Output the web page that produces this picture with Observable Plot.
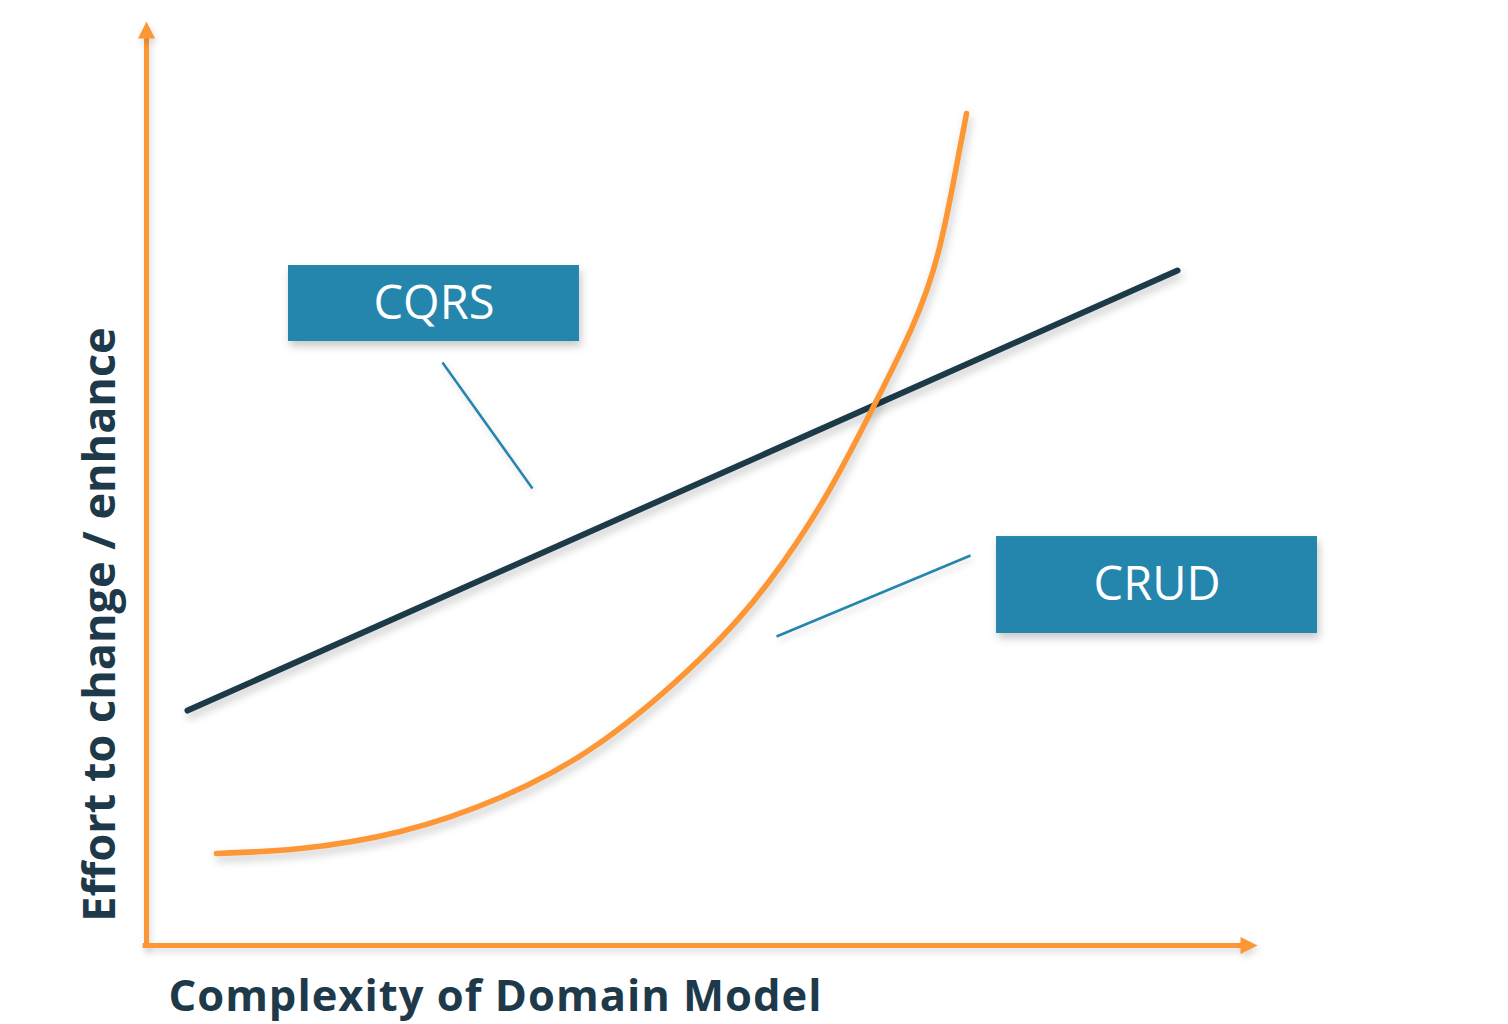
<!DOCTYPE html>
<html>
<head>
<meta charset="utf-8">
<script src="https://cdn.jsdelivr.net/npm/d3@7"></script>
<script src="https://cdn.jsdelivr.net/npm/@observablehq/plot@0.6"></script>
<style>
  html, body { margin: 0; padding: 0; background: #fff; }
  .shadow { filter: drop-shadow(2px 5px 4px rgba(0,0,0,0.22)); }
  .soft { filter: drop-shadow(2px 4px 3px rgba(0,0,0,0.14)); }
  .xtitle text { letter-spacing: 1px; }
</style>
</head>
<body>
<div id="chart"></div>
<script>
// Dark straight line (CQRS)
const cqrsX = [3.69, 92.80];
const cqrsY = [25.43, 73.05];

// Orange curve (CRUD)
const crudX = [6.30, 13.86, 22.86, 31.86, 40.86, 49.86, 55.90, 61.12, 65.44, 68.86, 71.29, 73.00, 73.81];
const crudY = [9.96, 10.50, 12.34, 16.02, 21.97, 31.06, 39.18, 48.59, 58.33, 66.77, 75.11, 84.96, 90.04];

// Label boxes
const boxLabels = ["CQRS", "CRUD"];
const boxX1 = [12.78, 76.51];
const boxX2 = [38.97, 105.4];
const boxY1 = [65.37, 33.77];
const boxY2 = [73.59, 44.26];

// Connector lines from labels
const connX1 = [26.64, 56.71];
const connY1 = [63.10, 33.44];
const connX2 = [34.74, 74.17];
const connY2 = [49.46, 42.21];

// Axis titles
const xTitle = "Complexity of Domain Model";
const yTitle = "Effort to change / enhance";

const ORANGE = "#fd9634";
const DARK = "#1c3a48";
const BLUE = "#2485ad";
const TEXT = "#1e3a4a";

const cqrs = cqrsX.map((x, i) => ({x, y: cqrsY[i]}));
const crud = crudX.map((x, i) => ({x, y: crudY[i]}));
const boxes = boxLabels.map((label, i) => ({label, x1: boxX1[i], x2: boxX2[i], y1: boxY1[i], y2: boxY2[i]}));
const conns = connX1.map((x1, i) => ({x1, y1: connY1[i], x2: connX2[i], y2: connY2[i]}));

// arrowhead symbols with the tip at the anchor point
const arrowUp = {draw(ctx, size) { const r = Math.sqrt(size / Math.PI); ctx.moveTo(0, 0); ctx.lineTo(-r / 2, r); ctx.lineTo(r / 2, r); ctx.closePath(); }};
const arrowRight = {draw(ctx, size) { const r = Math.sqrt(size / Math.PI); ctx.moveTo(0, 0); ctx.lineTo(-r, -r / 2); ctx.lineTo(-r, r / 2); ctx.closePath(); }};

const chart = Plot.plot({
  width: 1508,
  height: 1024,
  marginLeft: 146,
  marginRight: 251,
  marginTop: 21,
  marginBottom: 79,
  x: {domain: [0, 100], axis: null},
  y: {domain: [0, 100], axis: null},
  style: {background: "#fff", overflow: "visible"},
  marks: [
    // axes
    Plot.ruleX([0], {y1: -0.3, y2: 98.3, stroke: ORANGE, strokeWidth: 5, className: "soft"}),
    Plot.ruleY([0], {x1: -0.3, x2: 98.6, stroke: ORANGE, strokeWidth: 5, className: "soft"}),
    Plot.dot([{x: 0, y: 100}], {x: "x", y: "y", symbol: arrowUp, r: 17, fill: ORANGE, stroke: "none", className: "soft"}),
    Plot.dot([{x: 100, y: 0}], {x: "x", y: "y", symbol: arrowRight, r: 17, fill: ORANGE, stroke: "none", className: "soft"}),
    // curves
    Plot.line(cqrs, {x: "x", y: "y", stroke: DARK, strokeWidth: 6, className: "shadow"}),
    Plot.line(crud, {x: "x", y: "y", stroke: ORANGE, strokeWidth: 5.5, curve: "natural", className: "shadow"}),
    // connectors
    Plot.link(conns, {x1: "x1", y1: "y1", x2: "x2", y2: "y2", stroke: BLUE, strokeWidth: 2.5, className: "soft"}),
    // label boxes
    Plot.rect(boxes, {x1: "x1", x2: "x2", y1: "y1", y2: "y2", fill: BLUE, className: "shadow"}),
    Plot.text(boxes, {x: d => (d.x1 + d.x2) / 2, y: d => (d.y1 + d.y2) / 2, text: "label", fill: "#fff", fontSize: 47, fontFamily: "Open Sans", fontWeight: 400}),
    // axis titles
    Plot.text([xTitle], {x: 1.98, y: -5.6, text: d => d, textAnchor: "start", fill: TEXT, fontSize: 43.5, fontFamily: "Open Sans", fontWeight: 700, className: "xtitle"}),
    Plot.text([yTitle], {x: -4.1, y: 34.74, text: d => d, rotate: -90, textAnchor: "middle", fill: TEXT, fontSize: 45, fontFamily: "Open Sans", fontWeight: 700})
  ]
});
document.getElementById("chart").appendChild(chart);
</script>
</body>
</html>
